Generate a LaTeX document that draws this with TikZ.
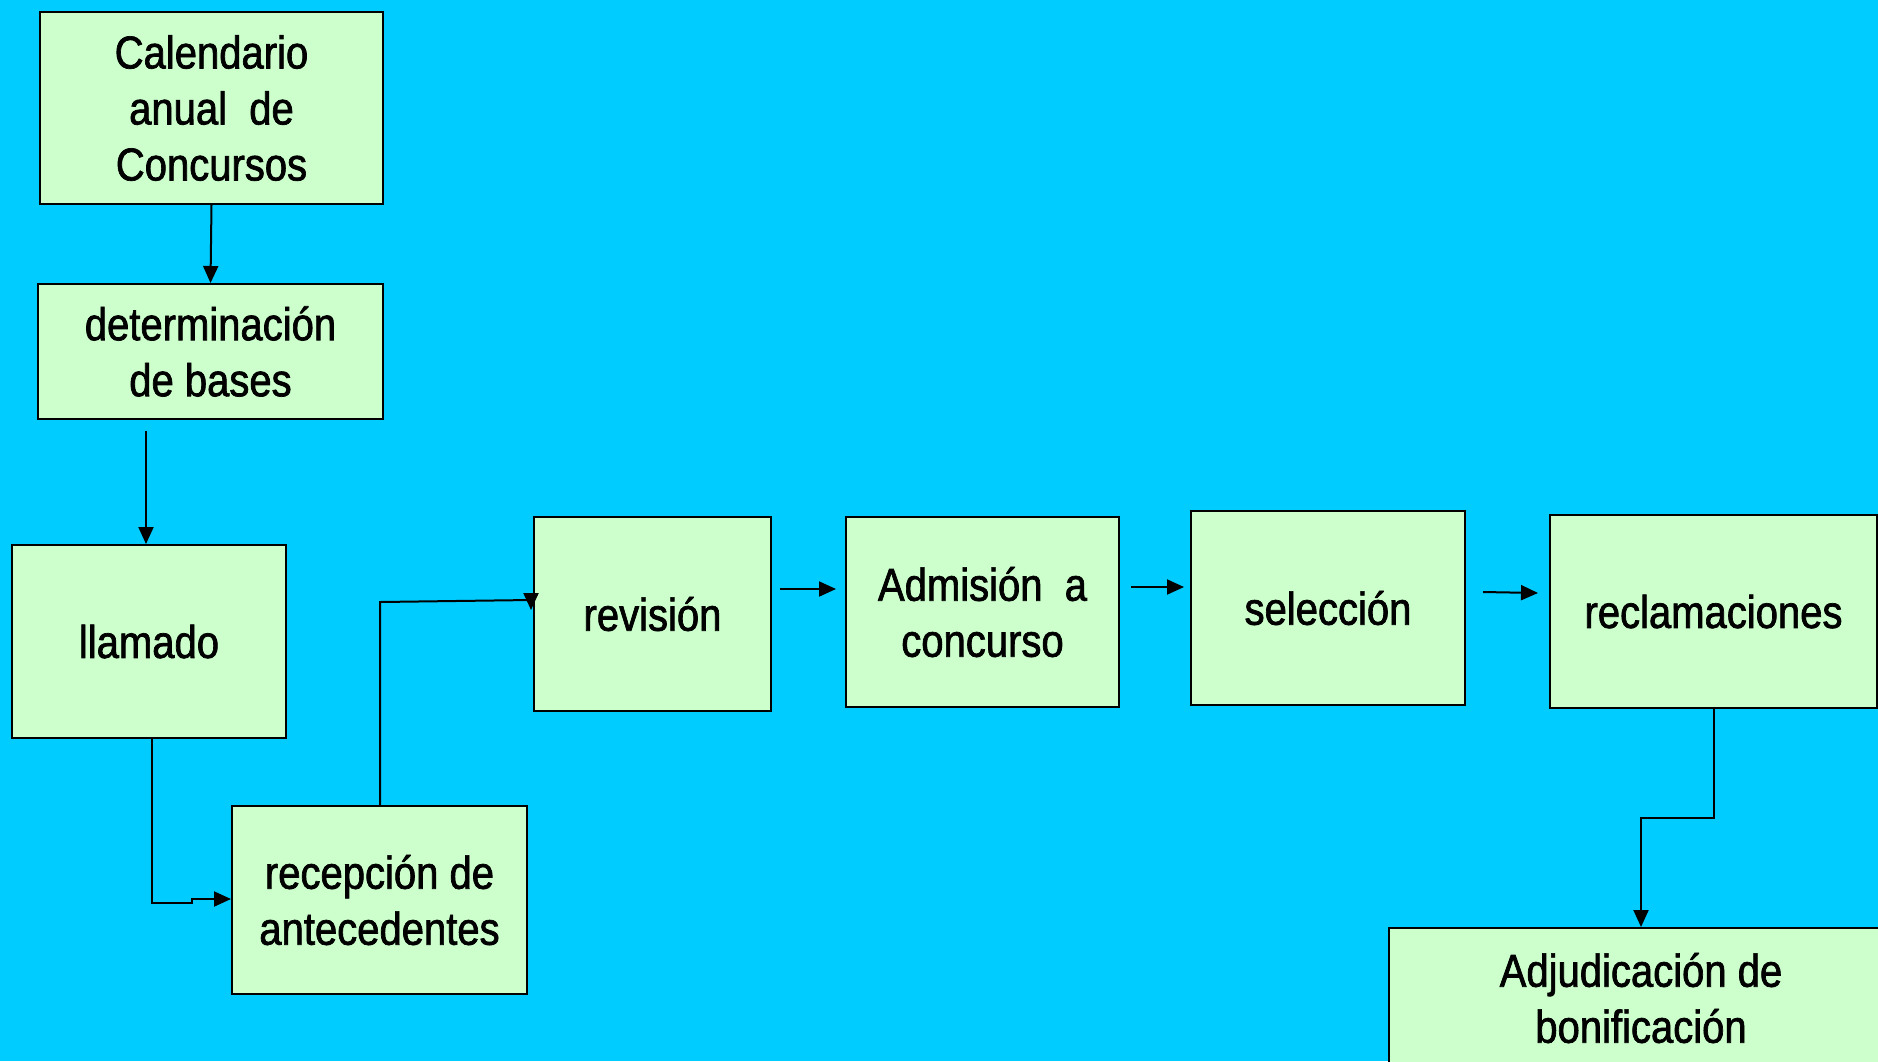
\documentclass[tikz,border=0pt]{standalone}
\usepackage{fontspec}
\setmainfont{Liberation Sans}[FakeStretch=0.87,FakeBold=1.5]
\usetikzlibrary{arrows.meta,calc}
\definecolor{bgcyan}{HTML}{00CCFF}
\definecolor{boxgreen}{HTML}{CCFFCC}
\tikzset{
  stepbox/.style={draw=black, fill=boxgreen, line width=2pt, inner sep=0pt, align=center,
    font=\fontsize{46}{56}\selectfont},
  arr/.style={draw=black, line width=2pt, -{Triangle[length=17pt,width=15pt]}},
  ln/.style={draw=black, line width=2pt}
}
\begin{document}
\begin{tikzpicture}[x=1pt,y=-1pt]
\fill[bgcyan] (0,0) rectangle (1878,1061);
\useasboundingbox (0,0) rectangle (1878,1061);

\node[stepbox, minimum width=343pt, minimum height=192pt] (cal) at (211.5,108) {Calendario\\anual\ \ de\\Concursos};
\node[stepbox, minimum width=345pt, minimum height=135pt] (det) at (210.5,351.5) {determinación\\de bases};
\node[stepbox, minimum width=274pt, minimum height=193pt] (lla) at (149,641.5) {llamado};
\node[stepbox, minimum width=295pt, minimum height=188pt] (rec) at (379.5,900) {recepción de\\antecedentes};
\node[stepbox, minimum width=237pt, minimum height=194pt] (rev) at (652.5,614) {revisión};
\node[stepbox, minimum width=273pt, minimum height=190pt] (adm) at (982.5,612) {Admisión\ \ a\\concurso};
\node[stepbox, minimum width=274pt, minimum height=194pt] (sel) at (1328,608) {selección};
\node[stepbox, minimum width=327pt, minimum height=193pt] (recl) at (1713.5,611.5) {reclamaciones};
\node[stepbox, minimum width=504pt, minimum height=140pt] (adj) at (1641,998) {Adjudicación de\\bonificación};

% connectors
\draw[arr] (cal.south) -- (det.north);

\coordinate (d1) at (146,431);
\draw[arr] (d1) -- (d1 |- lla.north);

\coordinate (l1) at (152,903);
\coordinate (l2) at (192,903);
\coordinate (l3) at (192,899);
\draw[arr] (lla.south -| l1) -- (l1) -- (l2) -- (l3) -- (l3 -| rec.west);

\coordinate (r1) at (380,602);
\coordinate (r2) at (531,600);
\coordinate (r3) at (531,610);
\draw[arr] (rec.north -| r1) -- (r1) -- (r2) -- (r3);

\coordinate (a1) at (780,589);
\coordinate (a2) at (836,589);
\draw[arr] (a1) -- (a2);
\coordinate (b1) at (1131,587);
\coordinate (b2) at (1184,587);
\draw[arr] (b1) -- (b2);
\coordinate (c1) at (1483,592);
\coordinate (c2) at (1538,593);
\draw[arr] (c1) -- (c2);

\coordinate (e1) at (1714,818);
\coordinate (e2) at (1641,818);
\draw[arr] (recl.south -| e1) -- (e1) -- (e2) -- (adj.north);
\end{tikzpicture}
\end{document}
